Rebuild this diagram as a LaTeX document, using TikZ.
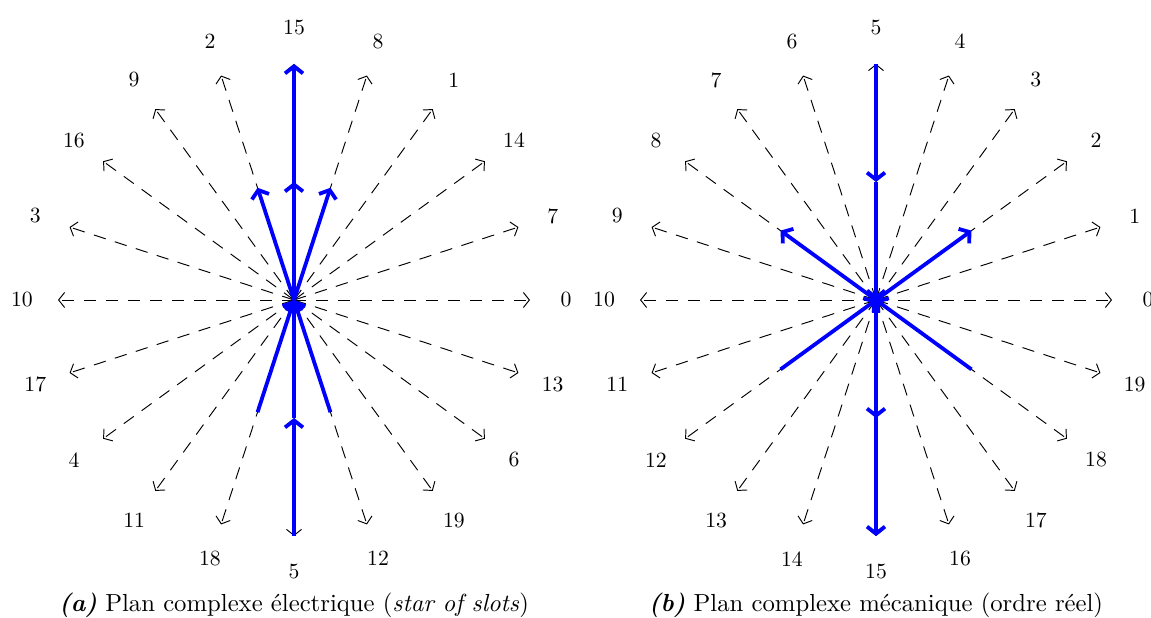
\documentclass[tikz,border=0pt]{standalone}
\usetikzlibrary{arrows.meta}
\begin{document}
\begin{tikzpicture}[x=1pt,y=1pt,
  spoke/.style={line width=0.95pt, dash pattern=on 12.4pt off 9.6pt, -{Straight Barb[length=6pt,width=15pt,line width=0.95pt]}},
  phasor/.style={blue, line width=3.8pt, -{Straight Barb[length=7pt,width=18pt]}},
  lbl/.style={font=\fontsize{10}{12}\selectfont, inner sep=0pt, scale=2.17, transform shape},
  captxt/.style={font=\fontsize{10}{12}\selectfont, inner sep=0pt, scale=2.47, transform shape}]
\useasboundingbox (0,0) rectangle (1151,618);
\clip (0,0) rectangle (1151,618);
% ---------- (a) electrical plane ----------
\begin{scope}[shift={(294,318)}]
  \coordinate (ca) at (0,0);
  \foreach \k in {0,...,19}{
    \pgfmathtruncatemacro\a{mod(\k*54,360)}
    \draw[spoke] (ca) -- (\a:236);
    \node[lbl] (la\k) at (\a:272) {\k};
  }
  \draw[phasor] (ca) -- (90:236);
  \foreach \a in {72,90,108} \draw[phasor] (ca) -- (\a:118);
  \draw[phasor] (270:236) -- (270:118);
  \foreach \a in {252,270,288} \draw[phasor] (\a:118) -- (ca);
\end{scope}
% ---------- (b) mechanical plane ----------
\begin{scope}[shift={(876,318)}]
  \coordinate (cb) at (0,0);
  \foreach \k in {0,...,19}{
    \pgfmathtruncatemacro\a{\k*18}
    \draw[spoke] (cb) -- (\a:236);
    \node[lbl] (lb\k) at (\a:272) {\k};
  }
  \draw[phasor] (cb) -- (270:236);
  \foreach \a in {36,144,270} \draw[phasor] (cb) -- (\a:118);
  \draw[phasor] (90:236) -- (90:118);
  \foreach \a in {90,216,324} \draw[phasor] (\a:118) -- (cb);
\end{scope}
% ---------- captions ----------
\node[captxt] (capa) at (294,13) {\textbf{\textit{(a)}} Plan complexe électrique (\textit{star of slots})};
\node[captxt] (capb) at (876,13) {\textbf{\textit{(b)}} Plan complexe mécanique (ordre réel)};
\end{tikzpicture}
\end{document}
